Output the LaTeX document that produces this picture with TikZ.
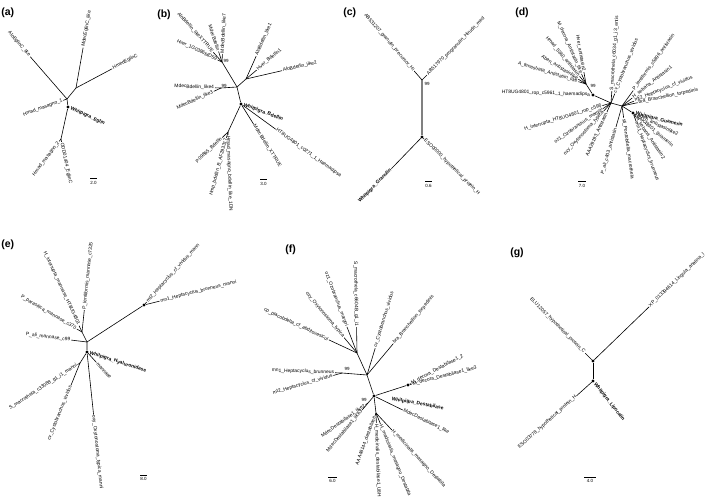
\documentclass[tikz,border=0pt]{standalone}
\usepackage{fontspec}
\setmainfont{Liberation Sans}
\newcommand\leaffont{\fontsize{4.9}{5.5}\selectfont}
\tikzset{
  leafr/.style={pos=1, sloped, anchor=west, inner sep=0.7pt, font=\leaffont},
  leafl/.style={leafr, anchor=east},
  leafb/.style={leafr, font=\leaffont\bfseries},
  leafbl/.style={leafl, font=\leaffont\bfseries},
  bdot/.style={circle, fill=black, inner sep=0pt, minimum size=3.2pt},
  boot/.style={font=\fontsize{4.5}{5}\selectfont, inner sep=0.5pt},
  panel/.style={font=\fontsize{10.5}{12}\selectfont\bfseries, anchor=west, inner sep=0pt},
  sbar/.style={line width=1pt},
  sval/.style={font=\fontsize{4.5}{5}\selectfont, below=1.5pt, inner sep=0pt}
}
\begin{document}
\begin{tikzpicture}[x=1pt, y=1pt, line width=0.6pt]
  \useasboundingbox (0,0) rectangle (709,-502);

  \node[panel] (pa) at (1,-13) {(a)};
  \coordinate (a0) at (67,-99);
  \coordinate (a1) at (76,-88);
  \node[bdot] (adot) at (68,-107) {};
  \coordinate (a2) at (61,-139);
  \draw (a1) -- (a0) -- (adot) -- (a2);
  \draw (a0) -- ++(131:56) node[leafl] (al1) {AloEglinC\_like};
  \draw (a1) -- ++(80:41) node[leafr] (al2) {MdecEglinC\_like};
  \draw (a1) -- ++(28:41) node[leafr] (al3) {HmedEglinC};
  \draw (a0) -- ++(200:4) node[leafl] (al4) {Hmad\_masagno\_1};
  \path (adot) -- ++(-25:2) node[leafb] (al5) {Whitpigra\_Eglin};
  \draw (a2) -- ++(233:3) node[leafl] (al6) {Hmad\_masagno\_2};
  \draw (a2) -- ++(-78:3) node[leafr] (al7) {ODD01404\_EglinC};
  \draw[sbar] (90,-179) -- node[sval] (as) {2.0} (97,-179);

  \node[panel] (pb) at (157,-15) {(b)};
  \coordinate (b0) at (237,-87);
  \node[bdot] (bdot) at (241,-104) {};
  \coordinate (b1) at (246,-79);
  \coordinate (bt) at (222,-62);
  \coordinate (bl) at (221,-88);
  \coordinate (bb) at (228,-132);
  \draw (bt) -- (b0) -- (b1);
  \draw (bl) -- (b0) -- (bdot) -- (bb);
  \draw (bt) -- ++(155:5) node[leafl] (bl1) {Hver\_1G0386MD59};
  \draw (bt) -- ++(132:13) node[leafl] (bl2) {AloBdellin\_likeXTTRUE};
  \draw (bt) -- ++(108:11) node[leafl] (bl3) {MdecBdellin};
  \draw (bt) -- ++(87:8) node[leafr] (bl4) {MdecBdellin\_like7};
  \node[boot] (bt99) at (226,-61) {99};
  \draw (b1) -- ++(66:25) node[leafr] (bl5) {AloBdellin\_like1};
  \draw (b1) -- ++(40:14) node[leafr] (bl6) {Hver\_Bdellin1};
  \draw (b1) -- ++(13:37) node[leafr] (bl7) {AloBdellin\_like2};
  \draw (bl) -- ++(178:6) node[leafl] (bl8) {MdecBdellin\_like4};
  \draw (bl) -- ++(205:8) node[leafl] (bl9) {MdecBdellin\_like3};
  \node[boot] (bl99) at (224,-85.5) {99};
  \draw (bb) -- ++(224:8) node[leafl] (bl10) {P09865\_Bdellin};
  \draw (bb) -- ++(255:6) node[leafl] (bl11) {Hmp\_bdellin\_B\_AF293317};
  \draw (bb) -- ++(-88:3) node[leafr] (bl12) {Hmad\_masagno\_bdellin\_like\_1DN};
  \draw (bdot) -- ++(-36:43) node[leafr] (bl13) {HT8UG4801\_c0271\_1\_Haemadipsa};
  \draw (bdot) -- ++(-58:24) node[leafr] (bl14) {MdecBdellin\_XTTRUE};
  \path (bdot) -- ++(-20:2) node[leafb] (bl15) {Whitpigra\_Bdellin};
  \draw[sbar] (260,-180) -- node[sval] (bs) {3.0} (267,-180);

  \node[panel] (pc) at (343,-13) {(c)};
  \coordinate (c1) at (422,-80);
  \node[bdot] (cdot) at (422,-137) {};
  \draw[gray, line width=1.1pt] (c1) -- (cdot);
  \draw (c1) -- ++(131:12) node[leafl] (cl1) {AB531207\_granulin\_precursor\_Hi};
  \draw (c1) -- ++(45:7) node[leafr] (cl2) {AB517970\_progranulin\_Hirudo\_med};
  \node[boot] (c99) at (427,-84) {99};
  \draw (cdot) -- ++(226:44) node[leafbl] (cl3) {Whitpigra\_Granulin};
  \draw (cdot) -- ++(-45:3) node[leafr] (cl4) {ESO00000\_hypothetical\_protein\_H};
  \draw[sbar] (425,-182) -- node[sval] (cs) {0.6} (432,-182);

  \node[panel] (pd) at (515,-13) {(d)};
  \coordinate (d0) at (611,-103);
  \coordinate (d1) at (622,-106);
  \node[bdot] (dL) at (593,-95) {};
  \coordinate (dLc) at (586,-84);
  \node[bdot] (dR) at (633,-113) {};
  \draw (dLc) -- (dL) -- (d0) -- (d1) -- (dR);
  \draw (dLc) -- ++(130:10) node[leafl] (dl1) {Hmad\_5360\_antistasin};
  \draw (dLc) -- ++(114:11) node[leafl] (dl2) {M\_decora\_Antistasin\_like};
  \draw (dLc) -- ++(100:12) node[leafl] (dl3) {Hver\_antistasin2};
  \draw (dLc) -- ++(148:9) node[leafl] (dl4) {Aben\_antistasinlike};
  \draw (dLc) -- ++(163:8) node[leafl] (dl5) {A\_fenestrata\_Antistasin\_like};
  \node[boot] (d99) at (593,-86) {99};
  \draw (dL) -- ++(178:2) node[leafl] (dl6) {HT8UG4801\_rop\_c5961\_1\_haemadipsa};
  \draw (d0) -- ++(197:9) node[leafl] (dl7) {H\_interrupta\_HT8UG4801\_rop\_c596};
  \draw (d0) -- ++(215:10) node[leafl] (dl8) {oz1\_Ozobranchus\_margoi};
  \draw (d0) -- ++(228:11) node[leafl] (dl9) {oxy\_Oxytonostoma\_typica};
  \draw (d0) -- ++(246:10) node[leafl] (dl10) {AAA29193\_Antistasin};
  \draw (d1) -- ++(254:22) node[leafl] (dl11) {P\_ali\_c403\_antistasin};
  \draw (d0) -- ++(86:12) node[leafr] (dl12) {S\_macrothela\_c6034\_g1\_i3\_antis};
  \draw (d0) -- ++(68:10) node[leafr] (dl13) {cv\_Cystobranchus\_vividus};
  \draw (d1) -- ++(54:19) node[leafr] (dl14) {P\_lentiformis\_c5896\_antistasin};
  \draw (d1) -- ++(38:13) node[leafr] (dl15) {H\_sebana\_Antistasin1};
  \draw (d1) -- ++(22:13) node[leafr] (dl16) {mt2\_Heptacyclus\_cf\_vividus};
  \draw (d1) -- ++(12:16) node[leafr] (dl17) {bra\_Branchellion\_torpedinis};
  \draw (d1) -- ++(-82:12) node[leafr] (dl18) {sti\_Pontobdella\_macrothela};
  \path (dR) -- ++(-14:2) node[leafb] (dl19) {Whitpigra\_Guamerin};
  \draw (dR) -- ++(-26:4) node[leafr] (dl20) {Aben\_antistasinlike2};
  \draw (dR) -- ++(-40:4) node[leafr] (dl21) {AAK48301\_guamerin};
  \draw (dR) -- ++(-56:5) node[leafr] (dl22) {H\_sebana\_Antistasin2};
  \draw (dR) -- ++(-70:9) node[leafr] (dl23) {mn1\_Heptacyclus\_brunneus};
  \draw[sbar] (578,-182) -- node[sval] (ds) {7.0} (586,-182);

  \node[panel] (pe) at (1,-245) {(e)};
  \coordinate (e0) at (87,-342);
  \coordinate (eUL) at (82,-332);
  \node[bdot] (edot) at (87,-352) {};
  \node[bdot] (eR) at (144,-305) {};
  \coordinate (eDL) at (80,-363);
  \draw (eUL) -- (e0) -- (eR);
  \draw (e0) -- (edot) -- (eDL);
  \draw (eUL) -- ++(115:7) node[leafl] (el1) {H\_interrupta\_mannase\_HT8UG4801};
  \draw (eUL) -- ++(84:22) node[leafr] (el2) {P\_lentiformis\_mannase\_c7325};
  \draw (eUL) -- ++(150:6) node[leafl] (el3) {P\_parasitica\_mannase\_c370};
  \draw (e0) -- ++(173:16) node[leafl] (el4) {P\_ali\_mannase\_c99};
  \draw (eR) -- ++(48:4) node[leafr] (el5) {mt2\_Heptacyclus\_cf\_vividus\_mann};
  \draw (eR) -- ++(14:16) node[leafr] (el6) {mn1\_Heptacyclus\_brunneus\_manni};
  \path (edot) -- ++(-18:2) node[leafb] (el7) {Whitpigra\_Hyaluronidase};
  \draw (edot) -- ++(-48:14) node[leafr] (el8) {mannase};
  \draw (eDL) -- ++(213:3) node[leafl] (el9) {S\_macrothela\_c33088\_g1\_i1\_manni};
  \draw (eDL) -- ++(248:24) node[leafl] (el10) {cv\_Cystobranchus\_vividus};
  \draw (edot) -- ++(-84:63) node[leafr] (el11) {oxy\_Oxytonostoma\_typica\_manni};
  \draw[sbar] (140,-475) -- node[sval] (es) {8.0} (147,-475);

  \node[panel] (pf) at (285,-250) {(f)};
  \node[bdot] (fdot) at (374,-396) {};
  \coordinate (f0) at (367,-375);
  \coordinate (fU) at (357,-353);
  \node[bdot] (fR) at (408,-385) {};
  \coordinate (fL) at (342,-373);
  \coordinate (fM) at (368,-403);
  \coordinate (fD) at (376,-413);
  \draw (fU) -- (f0) -- (fdot) -- (fR);
  \draw (fL) -- (f0);
  \draw (fM) -- (fdot) -- (fD);
  \draw (fU) -- ++(91:26) node[leafl] (fl1) {S\_macrothela\_c6604B\_g1\_i1};
  \draw (fU) -- ++(111:28) node[leafl] (fl2) {oz1\_Ozobranchus\_margoi};
  \draw (fU) -- ++(130:20) node[leafl] (fl3) {oxy\_Oxytonostoma\_typica};
  \draw (fU) -- ++(155:31) node[leafl] (fl4) {cp\_placobdella\_cf\_abditovesicul};
  \draw (f0) -- ++(73:28) node[leafr] (fl5) {cv\_Cystobranchus\_vividus};
  \draw (f0) -- ++(50:41) node[leafr] (fl6) {bra\_Branchellion\_torpedinis};
  \draw (fL) -- ++(178:7) node[leafl] (fl7) {mn1\_Heptacyclus\_brunneus};
  \draw (fL) -- ++(196:9) node[leafl] (fl8) {mt2\_Heptacyclus\_cf\_vividus};
  \node[boot] (f99a) at (347,-369) {99};
  \draw (fR) -- ++(28:3) node[leafr] (fl9) {M\_decora\_Destabilase1\_2};
  \draw (fR) -- ++(14:4) node[leafr] (fl10) {M\_decora\_Destabilase1\_like3};
  \path (fdot) -- ++(-10:17) node[leafb] (fl11) {Whitpigra\_Destabilase};
  \draw (fdot) -- ++(-26:32) node[leafr] (fl12) {MdecDestabilase1\_like};
  \draw (fM) -- ++(216:3) node[leafl] (fl13) {MdecDestabilase1\_like2};
  \draw (fM) -- ++(230:9) node[leafl] (fl14) {MdecDestabilase1\_like3};
  \node[boot] (f99b) at (364,-400) {99};
  \draw (fD) -- ++(250:3) node[leafl] (fl15) {AAA48144\_destabilase};
  \draw (fD) -- ++(-88:10) node[leafr] (fl16) {H\_medicinalis\_destabilase1\_U8H};
  \draw (fD) -- ++(-68:12) node[leafr] (fl17) {H\_medicinalis\_mesagno\_Destabila};
  \draw (fD) -- ++(-47:23) node[leafr] (fl18) {H\_medicinalis\_masagno\_Destabila};
  \draw[sbar] (328,-477) -- node[sval] (fs) {6.0} (337,-477);

  \node[panel] (pg) at (510,-253) {(g)};
  \node[bdot] (gU) at (593,-361) {};
  \node[bdot] (gL) at (593,-381) {};
  \draw (gU) -- (gL);
  \draw (gU) -- ++(44:78) node[leafr] (gl1) {XP\_013394614\_Lingula\_anatina\_l};
  \draw (gU) -- ++(135:11) node[leafl] (gl2) {ELU12057\_hypothetical\_protein\_C};
  \path (gL) -- ++(-52:2) node[leafb] (gl3) {Whitpigra\_Lipocalin};
  \draw (gL) -- ++(222:22) node[leafl] (gl4) {ESO03778\_hypothetical\_protein\_H};
  \draw[sbar] (584,-477) -- node[sval] (gs) {4.0} (596,-477);
\end{tikzpicture}
\end{document}
